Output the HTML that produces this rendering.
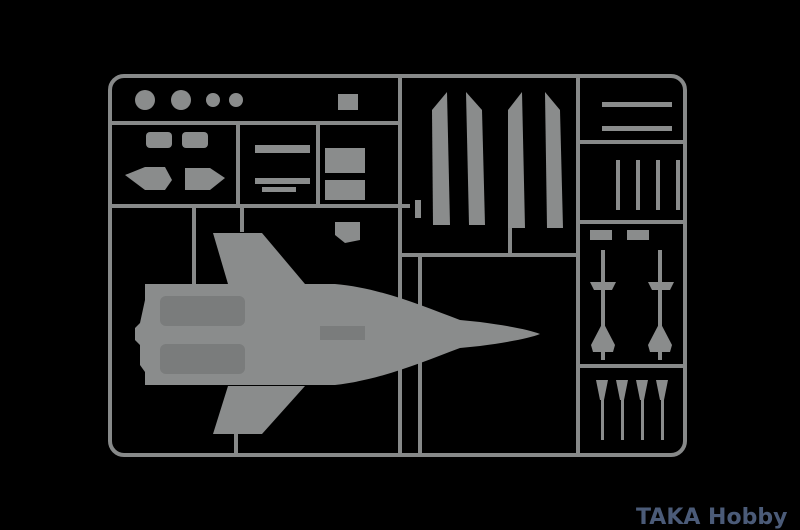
<!DOCTYPE html>
<html><head><meta charset="utf-8"><style>
html,body{margin:0;padding:0;background:#000;width:800px;height:530px;overflow:hidden}
.t{position:absolute;left:636px;top:505px;font-family:"DejaVu Sans","Liberation Sans",sans-serif;font-size:22px;font-weight:bold;color:#4b5b78;white-space:nowrap}
</style></head><body>
<svg width="800" height="530" viewBox="0 0 800 530" style="position:absolute;left:0;top:0">
<g stroke="#878989" stroke-width="4" fill="none">
<rect x="110" y="76" width="575" height="379" rx="14"/>
<line x1="110" y1="123" x2="400" y2="123"/>
<line x1="110" y1="206" x2="410" y2="206"/>
<line x1="400" y1="76" x2="400" y2="455"/>
<line x1="238" y1="123" x2="238" y2="206"/>
<line x1="318" y1="123" x2="318" y2="206"/>
<line x1="194" y1="206" x2="194" y2="284"/>
<line x1="242" y1="206" x2="242" y2="232"/>
<line x1="400" y1="255" x2="578" y2="255"/>
<line x1="420" y1="255" x2="420" y2="455"/>
<line x1="578" y1="76" x2="578" y2="455"/>
<line x1="578" y1="142" x2="685" y2="142"/>
<line x1="578" y1="222" x2="685" y2="222"/>
<line x1="578" y1="366" x2="685" y2="366"/>
<line x1="236" y1="434" x2="236" y2="455"/>
<line x1="510" y1="228" x2="510" y2="255"/>
</g>
<g fill="#8a8c8c">
<circle cx="145" cy="100" r="10"/><circle cx="181" cy="100" r="10"/>
<circle cx="213" cy="100" r="7"/><circle cx="236" cy="100" r="7"/>
<rect x="338" y="94" width="20" height="16"/>
<rect x="146" y="132" width="26" height="16" rx="4"/><rect x="182" y="132" width="26" height="16" rx="4"/>
<path d="M125 175 L145 167 L165 167 L172 180 L165 190 L145 190 Z"/>
<path d="M185 168 L210 168 L225 178 L210 190 L185 190 Z"/>
<rect x="255" y="145" width="55" height="8"/>
<rect x="255" y="178" width="55" height="6"/>
<rect x="262" y="187" width="34" height="5"/>
<rect x="325" y="148" width="40" height="25"/>
<rect x="325" y="180" width="40" height="20"/>
<path d="M335 222 L360 222 L360 240 L345 243 L335 235 Z"/>
<path d="M432 110 L447 92 L450 225 L433 225 Z"/>
<path d="M466 92 L482 110 L485 225 L469 225 Z"/>
<path d="M508 110 L522 92 L525 228 L508 228 Z"/>
<path d="M545 92 L560 110 L563 228 L547 228 Z"/>
<rect x="415" y="200" width="6" height="18"/>
<rect x="602" y="102" width="70" height="5"/><rect x="602" y="126" width="70" height="5"/>
<rect x="616" y="160" width="4" height="50"/><rect x="636" y="160" width="4" height="50"/>
<rect x="656" y="160" width="4" height="50"/><rect x="676" y="160" width="4" height="50"/>
<rect x="590" y="230" width="22" height="10"/><rect x="627" y="230" width="22" height="10"/>
<rect x="601" y="250" width="4" height="110"/><rect x="658" y="250" width="4" height="110"/>
<path d="M590 282 L616 282 L612 290 L594 290 Z"/><path d="M648 282 L674 282 L670 290 L652 290 Z"/>
<path d="M603 322 L615 345 L613 352 L593 352 L591 345 Z"/><path d="M660 322 L672 345 L670 352 L650 352 L648 345 Z"/>
<path d="M596 380 L608 380 L604 400 L600 400Z"/><rect x="601" y="380" width="3" height="60"/>
<path d="M616 380 L628 380 L624 400 L620 400Z"/><rect x="621" y="380" width="3" height="60"/>
<path d="M636 380 L648 380 L644 400 L640 400Z"/><rect x="641" y="380" width="3" height="60"/>
<path d="M656 380 L668 380 L664 400 L660 400Z"/><rect x="661" y="380" width="3" height="60"/>
<path d="M213 233 L262 233 L305 284 L228 284 Z"/>
<path d="M228 386 L305 386 L262 434 L213 434 Z"/>
<path d="M145 284 L335 284 C380 288 420 305 460 320 L480 322 C510 326 530 330 540 334 C530 338 510 342 480 346 L460 348 C420 363 380 380 335 385 L145 385 L145 372 L140 365 L140 345 L135 340 L135 328 L140 323 L145 300 Z"/>
</g>
<g fill="#7a7c7c">
<rect x="160" y="296" width="85" height="30" rx="6"/>
<rect x="160" y="344" width="85" height="30" rx="6"/>
<rect x="320" y="326" width="45" height="14"/>
</g>
</svg>
<div class="t">TAKA Hobby</div>
</body></html>
